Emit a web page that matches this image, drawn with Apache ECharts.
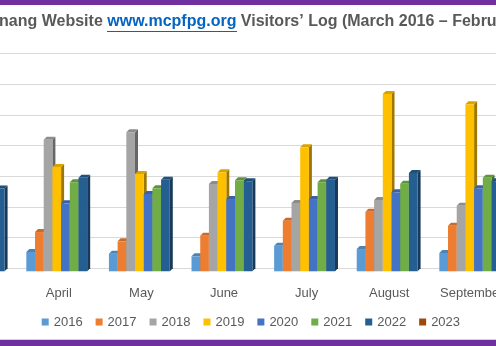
<!DOCTYPE html>
<html>
<head>
<meta charset="utf-8">
<script src="https://cdn.jsdelivr.net/npm/echarts@6/dist/echarts.min.js"></script>
<style>
  html, body { margin: 0; padding: 0; background: #ffffff; }
  #chart { width: 496px; height: 346px; }
</style>
</head>
<body>
<div id="chart"></div>
<script>
// Monthly visitor counts per year
const months = ['March', 'April', 'May', 'June', 'July', 'August', 'September'];
const years = ['2016', '2017', '2018', '2019', '2020', '2021', '2022', '2023'];
const v2016 = [null, 315, 287, 245, 417, 363, 298];
const v2017 = [null, 640, 489, 580, 825, 971, 743];
const v2018 = [null, 2145, 2266, 1423, 1113, 1162, 1069];
const v2019 = [null, 1700, 1586, 1614, 2021, 2890, 2722];
const v2020 = [null, 1108, 1260, 1178, 1178, 1288, 1353];
const v2021 = [null, 1450, 1353, 1483, 1450, 1428, 1526];
const v2022 = [1350, 1526, 1493, 1467, 1493, 1602, 1467];
const v2023 = [null, null, null, null, null, null, null];
const seriesValues = [v2016, v2017, v2018, v2019, v2020, v2021, v2022, v2023];

const colors = ['#5B9BD5', '#ED7D31', '#A5A5A5', '#FFC000', '#4472C4', '#70AD47', '#255E91', '#9E480E'];

function shade(hex, f) {
  const n = parseInt(hex.slice(1), 16);
  const r = Math.round(((n >> 16) & 255) * f);
  const g = Math.round(((n >> 8) & 255) * f);
  const b = Math.round((n & 255) * f);
  return 'rgb(' + r + ',' + g + ',' + b + ')';
}

const SLOTS = 8, GAP = 1.5, DEPTH = 3, SHIFT = 2.3;

// 3D-style column: front face, dark right side, lighter top cap
function makeRenderer(idx) {
  const base = colors[idx];
  return function (params, api) {
    const v = api.value(1);
    if (v == null || isNaN(v)) return null;
    const cat = api.value(0);
    const zero = api.coord([cat, 0]);
    const top = api.coord([cat, v]);
    const band = api.size([1, 0])[0];
    const slot = band / (SLOTS + GAP);
    const x0 = zero[0] - (SLOTS / 2) * slot + idx * slot + SHIFT;
    const yt = top[1] + DEPTH;
    const yb = zero[1] + DEPTH;
    const d = DEPTH;
    return {
      type: 'group',
      children: [
        {
          type: 'polygon',
          shape: { points: [[x0 + slot, yt], [x0 + slot + d, yt - d], [x0 + slot + d, yb - d], [x0 + slot, yb]] },
          style: { fill: shade(base, 0.62) }
        },
        {
          type: 'polygon',
          shape: { points: [[x0, yt], [x0 + d, yt - d], [x0 + slot + d, yt - d], [x0 + slot, yt]] },
          style: { fill: shade(base, 0.85) }
        },
        {
          type: 'rect',
          shape: { x: x0, y: yt, width: slot, height: yb - yt },
          style: { fill: base }
        }
      ]
    };
  };
}

const series = years.map((y, i) => ({
  name: y,
  type: 'custom',
  renderItem: makeRenderer(i),
  itemStyle: { color: colors[i] },
  encode: { x: 0, y: 1 },
  data: months.map((m, k) => [k, seriesValues[i][k]])
}));

const chart = echarts.init(document.getElementById('chart'), null, { renderer: 'canvas' });
chart.setOption({
  animation: false,
  backgroundColor: '#ffffff',
  grid: { left: -65.1, width: 578.2, top: 53.6, height: 214.7, outerBoundsMode: 'none', containLabel: false },
  xAxis: {
    type: 'category',
    data: months,
    axisLine: { show: false },
    axisTick: { show: false },
    axisLabel: { color: '#595959', fontSize: 13, fontFamily: 'Liberation Sans', margin: 19, interval: 0 }
  },
  yAxis: {
    type: 'value',
    min: 0,
    max: 3500,
    interval: 500,
    axisLabel: { show: false },
    axisLine: { show: false },
    axisTick: { show: false },
    splitLine: { lineStyle: { color: '#d9d9d9', width: 1 } }
  },
  legend: {
    left: 41.7,
    top: 315.5,
    padding: 0,
    icon: 'rect',
    itemWidth: 7,
    itemHeight: 7,
    itemGap: 13,
    textStyle: { color: '#595959', fontSize: 13, fontFamily: 'Liberation Sans' },
    data: years
  },
  graphic: [
    { type: 'rect', shape: { x: 0, y: 0, width: 496, height: 5 }, style: { fill: '#7030A0' } },
    { type: 'rect', shape: { x: 0, y: 339.8, width: 496, height: 7 }, style: { fill: '#7030A0' } },
    {
      type: 'text',
      x: -20.5,
      y: 22,
      style: {
        text: '{t|Penang Website }{u|www.mcpfpg.org}{t| Visitors’ Log (March 2016 – February 2023)}',
        verticalAlign: 'middle',
        rich: {
          t: { fill: '#595959', font: 'bold 16px "Liberation Sans"' },
          u: { fill: '#0563C1', font: 'bold 16px "Liberation Sans"' }
        }
      }
    },
    { type: 'line', shape: { x1: 107, y1: 31.5, x2: 237, y2: 31.5 }, style: { stroke: '#0563C1', lineWidth: 1.2 } }
  ],
  series: series
});
</script>
</body>
</html>
